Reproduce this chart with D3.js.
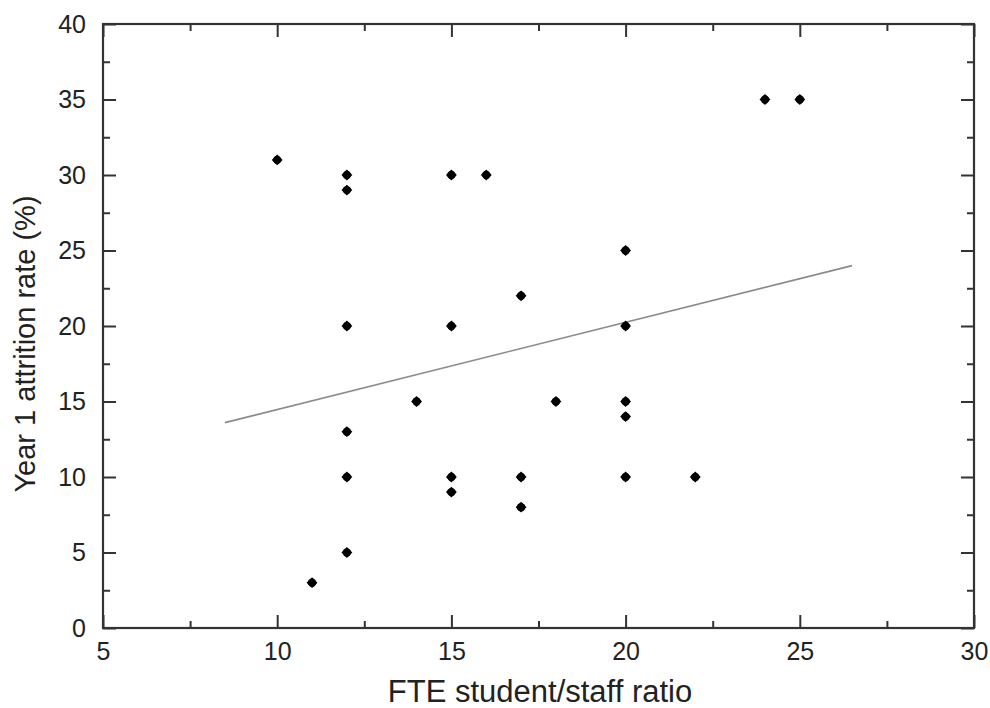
<!DOCTYPE html>
<html>
<head>
<meta charset="utf-8">
<script src="https://cdn.jsdelivr.net/npm/d3@7"></script>
<style>
  body { margin: 0; background: #fff; }
  text { font-family: "Liberation Sans", Arial, sans-serif; fill: #222; }
</style>
</head>
<body>
<div id="chart"></div>
<script>
// student/staff ratio vs year 1 attrition
var ratio =     [10, 11, 12, 12, 12, 12, 12, 12, 14, 15, 15, 15, 15, 16, 17, 17, 17, 18, 20, 20, 20, 20, 20, 22, 24, 25];
var attrition = [31,  3, 30, 29, 20, 13, 10,  5, 15, 30, 20, 10,  9, 30, 22, 10,  8, 15, 25, 20, 15, 14, 10, 10, 35, 35];

// fitted line endpoints
var fitX = [8.5, 26.5];
var fitY = [13.6, 24.0];

var xTicks = [5, 10, 15, 20, 25, 30];
var yTicks = [0, 5, 10, 15, 20, 25, 30, 35, 40];
var xMinor = [7.5, 12.5, 17.5, 22.5, 27.5];
var yMinor = [2.5, 7.5, 12.5, 17.5, 22.5, 27.5, 32.5, 37.5];

var W = 990, H = 708;
var pLeft = 103, pRight = 974, pTop = 24, pBottom = 628;

var x = d3.scaleLinear().domain([5, 30]).range([pLeft, pRight]);
var y = d3.scaleLinear().domain([0, 40]).range([pBottom, pTop]);

var svg = d3.select('#chart').append('svg')
    .attr('width', W)
    .attr('height', H);

// ticks, pointing inward on all four sides
function ticks(axisFn, scale, vals, size, transform) {
    var g = svg.append('g')
        .attr('transform', transform)
        .call(axisFn(scale).tickValues(vals).tickSize(size).tickFormat(''));
    g.select('.domain').remove();
    g.selectAll('line').attr('stroke', '#333').attr('stroke-width', 2);
    return g;
}

ticks(d3.axisTop, x, xTicks, 13, 'translate(0,' + pBottom + ')');
ticks(d3.axisTop, x, xMinor, 7, 'translate(0,' + pBottom + ')');
ticks(d3.axisBottom, x, xTicks, 13, 'translate(0,' + pTop + ')');
ticks(d3.axisBottom, x, xMinor, 7, 'translate(0,' + pTop + ')');
ticks(d3.axisRight, y, yTicks, 13, 'translate(' + pLeft + ',0)');
ticks(d3.axisRight, y, yMinor, 7, 'translate(' + pLeft + ',0)');
ticks(d3.axisLeft, y, yTicks, 13, 'translate(' + pRight + ',0)');
ticks(d3.axisLeft, y, yMinor, 7, 'translate(' + pRight + ',0)');

// tick labels via axes with zero-length ticks
var xl = svg.append('g')
    .attr('transform', 'translate(0,' + pBottom + ')')
    .call(d3.axisBottom(x).tickValues(xTicks).tickSize(0).tickPadding(14));
xl.select('.domain').remove();
xl.selectAll('text').style('font-size', '25px').attr('fill', '#222');

var yl = svg.append('g')
    .attr('transform', 'translate(' + pLeft + ',0)')
    .call(d3.axisLeft(y).tickValues(yTicks).tickSize(0).tickPadding(17));
yl.select('.domain').remove();
yl.selectAll('text').style('font-size', '25px').attr('fill', '#222');

// frame
svg.append('rect')
    .attr('x', pLeft).attr('y', pTop)
    .attr('width', pRight - pLeft).attr('height', pBottom - pTop)
    .attr('fill', 'none')
    .attr('stroke', '#333')
    .attr('stroke-width', 2.2);

// fit line
svg.append('line')
    .attr('x1', x(fitX[0])).attr('y1', y(fitY[0]))
    .attr('x2', x(fitX[1])).attr('y2', y(fitY[1]))
    .attr('stroke', '#8a8a8a')
    .attr('stroke-width', 1.6);

// points
var pts = d3.range(ratio.length).map(function(i) { return {x: ratio[i], y: attrition[i]}; });
var diamond = d3.symbol().type(d3.symbolDiamond2).size(75);
var pg = svg.append('g').selectAll('g')
    .data(pts).enter().append('g')
    .attr('transform', function(d) { return 'translate(' + x(d.x) + ',' + y(d.y) + ')'; });
pg.append('path').attr('d', diamond).attr('fill', '#000');
pg.append('circle').attr('r', 4.2).attr('fill', '#000');

// axis titles
svg.append('text')
    .attr('x', 540).attr('y', 702)
    .attr('text-anchor', 'middle')
    .style('font-size', '31px')
    .text('FTE student/staff ratio');

svg.append('text')
    .attr('transform', 'translate(35,344) rotate(-90)')
    .attr('text-anchor', 'middle')
    .style('font-size', '29px')
    .text('Year 1 attrition rate (%)');
</script>
</body>
</html>
